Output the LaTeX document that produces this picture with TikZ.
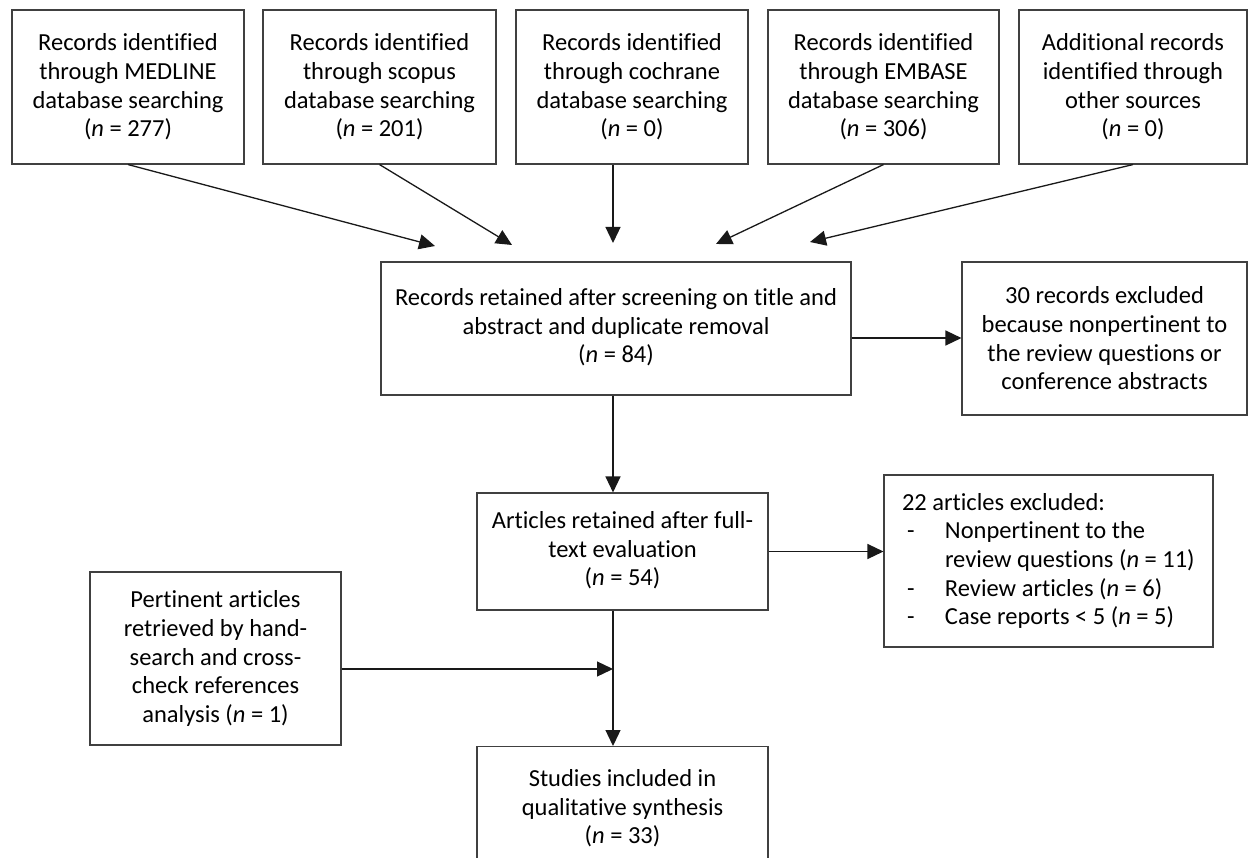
\documentclass[tikz,border=0pt]{standalone}
\usepackage{fontspec}
\setmainfont{Carlito}[Ligatures={NoCommon}]
\usetikzlibrary{arrows.meta,calc}
\tikzset{
  box/.style={draw=black!75, line width=1.1pt, rectangle, align=center, inner sep=0pt,
    font=\fontsize{24.5}{28.7}\selectfont},
  arr/.style={draw=black!90, line width=1.3pt, -{Triangle[length=16pt,width=15pt]}},
}
\newcommand{\nn}{\textit{n}}
\newcommand{\dashitem}[1]{\makebox[43pt][l]{\hspace{5pt}-}#1}
\newcommand{\liftlines}[2]{\raisebox{#1}{\begin{tabular}{@{}c@{}}#2\end{tabular}}}
\begin{document}
\begin{tikzpicture}[x=1pt,y=-1pt]
\useasboundingbox (0,0) rectangle (1249,858);
\clip (0,0) rectangle (1249,858);
% top row
\node[box, minimum width=232pt, minimum height=154pt] (m1) at (128,87)
  {Records identified\\through MEDLINE\\database searching\\(\nn{} = 277)};
\node[box, minimum width=233pt, minimum height=154pt] (m2) at (379.5,87)
  {Records identified\\through scopus\\database searching\\(\nn{} = 201)};
\node[box, minimum width=232pt, minimum height=154pt] (m3) at (632,87)
  {Records identified\\through cochrane\\database searching\\(\nn{} = 0)};
\node[box, minimum width=231pt, minimum height=154pt] (m4) at (883.5,87)
  {Records identified\\through EMBASE\\database searching\\(\nn{} = 306)};
\node[box, minimum width=228pt, minimum height=154pt] (m5) at (1133,87)
  {Additional records\\identified through\\other sources\\(\nn{} = 0)};
% middle
\node[box, minimum width=470pt, minimum height=133pt] (r84) at (616,328.5)
  {\liftlines{8pt}{Records retained after screening on title and\\abstract and duplicate removal\\(\nn{} = 84)}};
\node[box, minimum width=285pt, minimum height=153pt] (ex30) at (1104.5,338.5)
  {30 records excluded\\because nonpertinent to\\the review questions or\\conference abstracts};
\node[box, minimum width=291pt, minimum height=117pt] (a54) at (622.5,551.5)
  {\liftlines{-3pt}{Articles retained after full-\\text evaluation\\(\nn{} = 54)}};
\node[box, minimum width=329pt, minimum height=172pt, text width=293pt, align=flush left,
  inner xsep=18pt] (ex22) at (1048.5,561)
  {22 articles excluded:\\
   \dashitem{Nonpertinent to the}\\
   \hspace*{43pt}review questions (\nn{} = 11)\\
   \dashitem{Review articles (\nn{} = 6)}\\
   \dashitem{Case reports < 5 (\nn{} = 5)}};
\node[box, minimum width=251pt, minimum height=173pt] (pert) at (215.5,658.5)
  {Pertinent articles\\retrieved by hand-\\search and cross-\\check references\\analysis (\nn{} = 1)};
\node[box, minimum width=291pt, minimum height=124pt, anchor=north] (st33) at (622.5,746)
  {\\[-12pt]Studies included in\\qualitative synthesis\\(\nn{} = 33)};
% free arrow ends
\coordinate (t1) at (435,246);
\coordinate (t2) at (512,245);
\coordinate (t3) at (613,243);
\coordinate (t4) at (716,244);
\coordinate (t5) at (810,242);
\coordinate (vx) at (613,0);
\coordinate (hy84) at (0,338);
\coordinate (j) at (613,669);
% connectors
\draw[arr] (m1.south) -- (t1);
\draw[arr] (m2.south) -- (t2);
\draw[arr] (m3.south -| vx) -- (t3);
\draw[arr] (m4.south) -- (t4);
\draw[arr] (m5.south) -- (t5);
\draw[arr] (r84.east |- hy84) -- (ex30.west |- hy84);
\draw[arr] (r84.south -| vx) -- (a54.north -| vx);
\draw[arr] (a54.east) -- (ex22.west |- a54.east);
\draw[arr] (a54.south -| vx) -- (st33.north -| vx);
\draw[arr] (pert.east |- j) -- (j);
\end{tikzpicture}
\end{document}
